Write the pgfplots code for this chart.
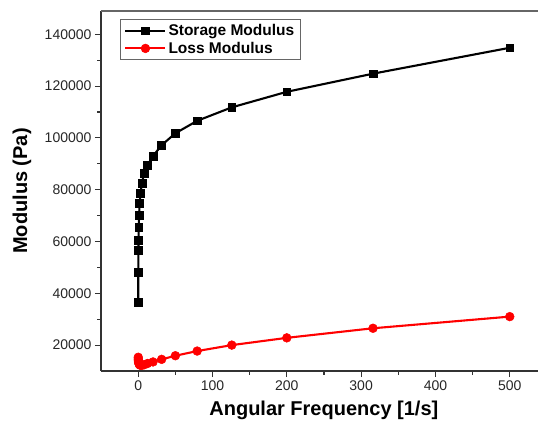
\documentclass[border=0pt]{standalone}
\usepackage{fontspec}
\setmainfont{Liberation Sans}
\usepackage{pgfplots}
\pgfplotsset{compat=1.18}
\begin{document}
\begin{tikzpicture}
\begin{axis}[
  name=ax,
  scale only axis, width=437pt, height=360pt,
  xmin=-50, xmax=538, ymin=10000, ymax=149000,
  clip mode=individual,
  axis x line*=bottom, axis y line*=left,
  axis line style={line width=1.3pt, black!80},
  scaled y ticks=false, scaled x ticks=false,
  xtick={0,100,200,300,400,500}, xticklabels={0,100,200,300,400,500},
  minor xtick={50,150,250,350,450},
  ytick={20000,40000,60000,80000,100000,120000,140000},
  yticklabels={20000,40000,60000,80000,100000,120000,140000},
  minor ytick={30000,50000,70000,90000,110000,130000},
  tick align=outside, major tick length=6pt, minor tick length=3.5pt,
  tick style={line width=1.1pt, black!80},
  minor tick style={line width=1.1pt, black!80},
  tick label style={font=\fontsize{14}{16}\selectfont, black!85},
  xlabel={Angular Frequency [1/s]},
  ylabel={Modulus (Pa)},
  every axis y label/.style={at={(axis description cs:-0.181,0.5)},rotate=90,anchor=center,font=\fontsize{20}{22}\selectfont\bfseries},
  every axis x label/.style={at={(axis description cs:0.51,-0.108)},anchor=center,font=\fontsize{20}{22}\selectfont\bfseries},
  legend style={at={(axis description cs:0.0435,0.978)}, anchor=north west,
    font=\fontsize{15.5}{17}\selectfont\bfseries, draw=black!60, line width=0.8pt,
    inner xsep=4pt, inner ysep=3pt, row sep=1pt,
    /tikz/every even column/.append style={column sep=2pt}},
  legend cell align=left,
  legend image code/.code={\draw[mark repeat=2,mark phase=2,#1] plot coordinates {(0pt,0pt) (20pt,0pt) (40pt,0pt)};},
]
\addplot[black, line width=2.1pt, mark=square*, mark size=3.9pt, mark options={solid, line width=0.5pt}] coordinates {
(0.126,36400) (0.2,48100) (0.316,56700) (0.501,60500) (0.794,65500) (1.26,70100)
(2.0,74700) (3.16,78600) (5.01,82500) (7.94,86200) (12.6,89500) (20,93000)
(31.6,97200) (50.1,101800) (79.4,106600) (126,111800) (200,117800) (316,124800) (500,134800)
};
\addlegendentry{Storage Modulus}
\addplot[red, line width=2.1pt, mark=*, mark size=4.4pt, mark options={solid, line width=0.5pt}] coordinates {
(0.126,15300) (0.2,14600) (0.316,14000) (0.501,13500) (0.794,13100) (1.26,12700)
(2.0,12400) (3.16,12200) (5.01,12200) (7.94,12400) (12.6,12900) (20,13500)
(31.6,14500) (50.1,15900) (79.4,17700) (126,20000) (200,22800) (316,26500) (500,31000)
};
\addlegendentry{Loss Modulus}
\end{axis}
\draw[line width=1.5pt, black!60] (ax.north west) -- (ax.north east);
\pgfresetboundingbox
\path ([xshift=-101pt,yshift=11pt]ax.north west) rectangle ([yshift=-58pt]ax.south east);
\end{tikzpicture}
\end{document}
